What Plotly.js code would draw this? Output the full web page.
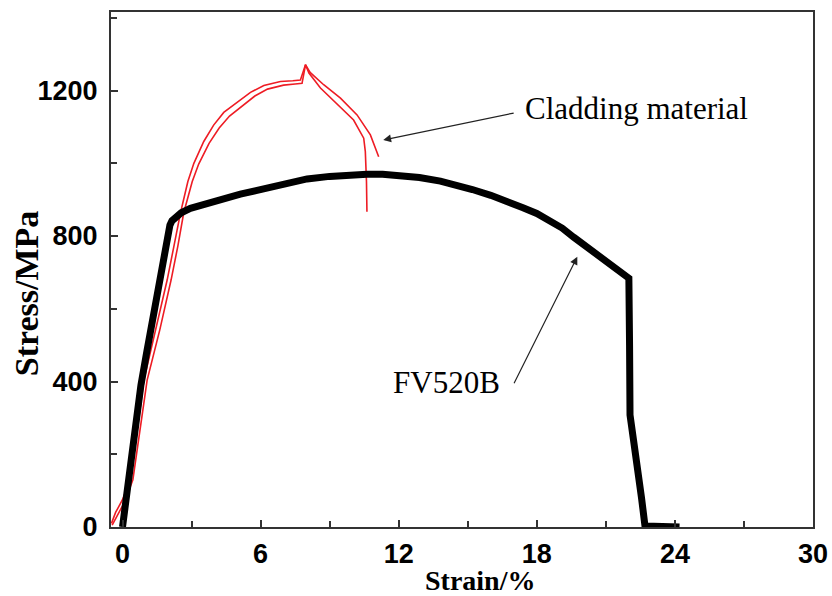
<!DOCTYPE html>
<html>
<head>
<meta charset="utf-8">
<script src="https://cdn.plot.ly/plotly-3.0.1.min.js"></script>
<style>html,body{margin:0;padding:0;background:#fff;}#chart{width:832px;height:596px;}</style>
</head>
<body>
<div id="chart"></div>
<script>
// FV520B (black)
const fvStrain = [0.0, 0.25, 0.55, 0.8, 1.05, 1.25, 1.45, 1.6, 1.75, 1.87, 1.97, 2.06, 2.15, 2.30, 2.55, 2.95, 3.6, 4.3, 5.12, 5.8, 6.43, 7.2, 8.02, 9.0, 10.0, 10.62, 11.3, 12.0, 12.9, 13.81, 14.5, 15.2, 16.0, 16.7, 17.4, 18.0, 18.6, 19.1, 19.6, 20.2, 20.75, 21.3, 21.8, 22.0, 22.03, 22.05, 22.2, 22.4, 22.55, 22.7, 23.4, 24.2];
const fvStress = [0, 129, 270, 390, 480, 555, 630, 680, 730, 775, 808, 830, 842, 852, 864, 876, 889, 900, 915, 925, 935, 946, 957, 964, 969, 970, 970, 968, 961, 951, 941, 928, 912, 897, 878, 862, 842, 822, 797, 769, 742, 715, 692, 684, 500, 308, 240, 160, 80, 3, 2, 0];

// Cladding material (red), two specimens
const cladAStrain = [-0.48, -0.3, 0.0, 0.35, 0.93, 1.43, 1.94, 2.23, 2.52, 2.84, 3.10, 3.53, 3.96, 4.4, 4.98, 5.56, 6.14, 6.86, 7.4, 7.73, 7.95, 8.15, 8.74, 9.47, 10.19, 10.77, 11.13];
const cladAStress = [10, 40, 75, 132, 404, 542, 679, 771, 864, 950, 1000, 1060, 1105, 1140, 1168, 1195, 1214, 1225, 1227, 1229, 1271, 1250, 1216, 1179, 1133, 1078, 1018];

const cladBStrain = [-0.45, -0.2, 0.1, 0.45, 1.07, 1.62, 2.11, 2.40, 2.66, 3.03, 3.31, 3.76, 4.2, 4.65, 5.2, 5.75, 6.3, 7.0, 7.5, 7.8, 7.95, 8.1, 8.6, 9.3, 10.04, 10.48, 10.55, 10.6, 10.62];
const cladBStress = [5, 35, 70, 130, 404, 542, 679, 771, 864, 950, 998, 1055, 1097, 1130, 1158, 1185, 1204, 1215, 1218, 1220, 1271, 1248, 1207, 1165, 1119, 1069, 1032, 950, 867];

const xTickVals = [0, 6, 12, 18, 24, 30];
const xTickText = ['0', '6', '12', '18', '24', '30'];
const xMinorVals = [3, 9, 15, 21, 27];
const yTickVals = [0, 400, 800, 1200];
const yTickText = ['0', '400', '800', '1200'];
const yMinorVals = [200, 600, 1000, 1400];

const red = '#ee1c24';
const traces = [
  {x: cladAStrain, y: cladAStress, mode: 'lines', line: {color: red, width: 1.6}, hoverinfo: 'skip'},
  {x: cladBStrain, y: cladBStress, mode: 'lines', line: {color: red, width: 1.6}, hoverinfo: 'skip'},
  {x: fvStrain, y: fvStress, mode: 'lines', line: {color: '#000', width: 7}, hoverinfo: 'skip', cliponaxis: false}
];

const tickFont = {family: 'Liberation Sans, Arial, sans-serif', size: 27, color: '#000', weight: 'bold'};
const serif = 'Liberation Serif, Times New Roman, serif';
const annFont = {family: serif, size: 31, color: '#000'};

const layout = {
  width: 832, height: 596,
  margin: {l: 111, r: 19, t: 12, b: 69},
  paper_bgcolor: '#fff', plot_bgcolor: '#fff',
  showlegend: false,
  xaxis: {
    range: [-0.5, 30], showgrid: false, zeroline: false,
    showline: true, linecolor: '#333', linewidth: 2, mirror: true,
    ticks: 'inside', ticklen: 7, tickwidth: 2, tickcolor: '#333',
    tickmode: 'array', tickvals: xTickVals, ticktext: xTickText,
    minor: {tickvals: xMinorVals, ticks: 'inside', ticklen: 6, tickwidth: 2, tickcolor: '#333'},
    tickfont: tickFont, ticklabelstandoff: 2,
    automargin: false
  },
  yaxis: {
    range: [0, 1416], showgrid: false, zeroline: false,
    showline: true, linecolor: '#333', linewidth: 2, mirror: true,
    ticks: 'inside', ticklen: 7, tickwidth: 2, tickcolor: '#333',
    tickmode: 'array', tickvals: yTickVals, ticktext: yTickText,
    minor: {tickvals: yMinorVals, ticks: 'inside', ticklen: 6, tickwidth: 2, tickcolor: '#333'},
    tickfont: tickFont, ticklabelstandoff: 6,
    automargin: false
  },
  annotations: [
    {x: 0.5256, y: -0.104, xref: 'paper', yref: 'paper', xanchor: 'center', yanchor: 'middle',
     text: 'Strain/%', showarrow: false, font: {family: serif, size: 28, color: '#000', weight: 'bold'}},
    {x: -0.121, y: 0.454, xref: 'paper', yref: 'paper', xanchor: 'center', yanchor: 'middle', textangle: -90,
     text: 'Stress/MPa', showarrow: false, font: {family: serif, size: 34, color: '#000', weight: 'bold'}},
    {x: 11.33, y: 1064, ax: 17.06, ay: 1139, xref: 'x', yref: 'y', axref: 'x', ayref: 'y',
     text: '', showarrow: true, arrowhead: 2, arrowsize: 1.3, arrowwidth: 1.2, arrowcolor: '#222'},
    {x: 19.76, y: 743, ax: 16.98, ay: 391, xref: 'x', yref: 'y', axref: 'x', ayref: 'y',
     text: '', showarrow: true, arrowhead: 2, arrowsize: 1.3, arrowwidth: 1.2, arrowcolor: '#222'},
    {x: 22.32, y: 1152, xref: 'x', yref: 'y', text: 'Cladding material', showarrow: false, font: annFont},
    {x: 14.07, y: 396, xref: 'x', yref: 'y', text: 'FV520B', showarrow: false, font: annFont}
  ]
};

Plotly.newPlot('chart', traces, layout, {displayModeBar: false, staticPlot: true});
</script>
</body>
</html>
